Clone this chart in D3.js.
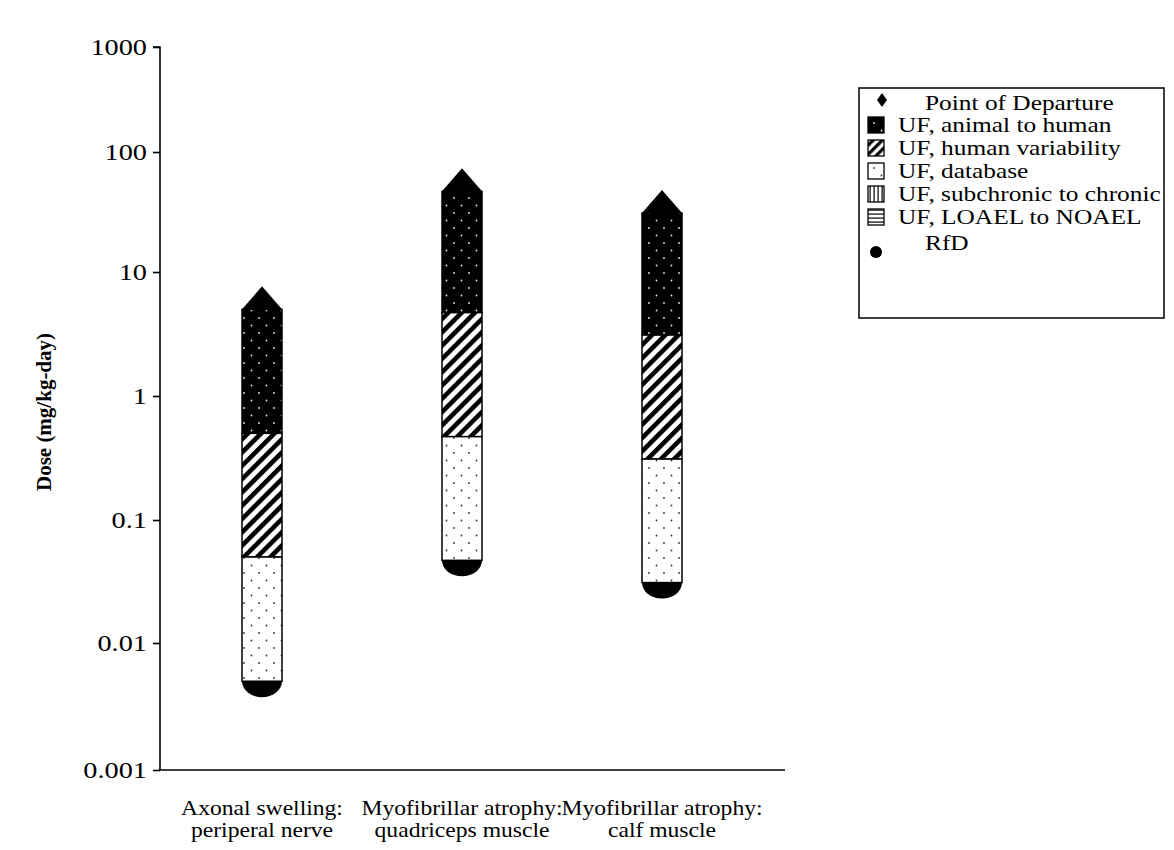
<!DOCTYPE html>
<html>
<head>
<meta charset="utf-8">
<script src="https://cdn.jsdelivr.net/npm/d3@7"></script>
<style>
  html, body { margin: 0; padding: 0; background: #fff; }
  svg { display: block; }
  text { font-family: "Liberation Serif", "Times New Roman", serif; fill: #000; }
</style>
</head>
<body>
<svg id="chart" width="1174" height="850"></svg>
<script>
// Endpoints (two-line category labels)
const categories = [
  ["Axonal swelling:", "periperal nerve"],
  ["Myofibrillar atrophy:", "quadriceps muscle"],
  ["Myofibrillar atrophy:", "calf muscle"]
];
// Point of departure per endpoint (mg/kg-day)
const pointOfDeparture = [5.0, 47, 31];
// Uncertainty factors applied per endpoint
const ufAnimalToHuman = [10, 10, 10];
const ufHumanVariability = [10, 10, 10];
const ufDatabase = [10, 10, 10];
// Resulting reference doses
const rfd = pointOfDeparture.map((p, i) => p / (ufAnimalToHuman[i] * ufHumanVariability[i] * ufDatabase[i]));

const yTickValues = [1000, 100, 10, 1, 0.1, 0.01, 0.001];
const yTickLabels = ["1000", "100", "10", "1", "0.1", "0.01", "0.001"];
const legendLabels = [
  "Point of Departure",
  "UF, animal to human",
  "UF, human variability",
  "UF, database",
  "UF, subchronic to chronic",
  "UF, LOAEL to NOAEL",
  "RfD"
];
const yTitle = "Dose (mg/kg-day)";

const svg = d3.select("#chart");
const SX = 1.18; // horizontal glyph stretch

// ---- patterns ----
const defs = svg.append("defs");
function dotPattern(id, bg, dot) {
  const p = defs.append("pattern").attr("id", id).attr("patternUnits", "userSpaceOnUse")
    .attr("width", 15).attr("height", 15);
  p.append("rect").attr("width", 15).attr("height", 15).attr("fill", bg);
  [[4, 3], [11.5, 10.5]].forEach(([cx, cy]) =>
    p.append("circle").attr("cx", cx).attr("cy", cy).attr("r", 0.9).attr("fill", dot));
}
dotPattern("pAnimal", "#000", "#e6e6e6");
dotPattern("pDatabase", "#fff", "#333");
(function () {
  const p = defs.append("pattern").attr("id", "pHuman").attr("patternUnits", "userSpaceOnUse")
    .attr("width", 9.4).attr("height", 9.4).attr("patternTransform", "rotate(45)");
  p.append("rect").attr("width", 9.4).attr("height", 9.4).attr("fill", "#fff");
  p.append("rect").attr("width", 4.6).attr("height", 9.4).attr("fill", "#000");
})();
(function () {
  const p = defs.append("pattern").attr("id", "pHumanLeg").attr("patternUnits", "userSpaceOnUse")
    .attr("width", 6.5).attr("height", 6.5).attr("patternTransform", "rotate(45)");
  p.append("rect").attr("width", 6.5).attr("height", 6.5).attr("fill", "#fff");
  p.append("rect").attr("width", 3.2).attr("height", 6.5).attr("fill", "#000");
})();
(function () {
  const p = defs.append("pattern").attr("id", "pSubchronic").attr("patternUnits", "userSpaceOnUse")
    .attr("width", 4).attr("height", 4);
  p.append("rect").attr("width", 4).attr("height", 4).attr("fill", "#fff");
  p.append("rect").attr("x", 1.5).attr("width", 1.2).attr("height", 4).attr("fill", "#000");
  const q = defs.append("pattern").attr("id", "pLoael").attr("patternUnits", "userSpaceOnUse")
    .attr("width", 4).attr("height", 4);
  q.append("rect").attr("width", 4).attr("height", 4).attr("fill", "#fff");
  q.append("rect").attr("y", 1.5).attr("width", 4).attr("height", 1.2).attr("fill", "#000");
})();

// ---- scales ----
const y = d3.scaleLog()
  .domain(yTickValues)
  .range([47, 152, 272, 396, 520, 643, 770]);
const x = d3.scaleBand()
  .domain(d3.range(categories.length))
  .range([162, 762]);
const barW = 40;

function stretchedText(g, tx, ty, str, anchor, size, weight) {
  return g.append("text")
    .attr("transform", `translate(${tx},${ty}) scale(${SX},1)`)
    .attr("text-anchor", anchor || "start")
    .attr("font-size", size || 20)
    .attr("font-weight", weight || "normal")
    .text(str);
}

// ---- axes ----
const axisX = 160;
const yAxis = d3.axisLeft(y).tickValues(yTickValues).tickSize(7).tickFormat(() => "");
svg.append("g").attr("transform", `translate(${axisX},0)`).call(yAxis)
  .call(g => g.select(".domain").attr("d", `M-7,${y(1000)}H0V${y(0.001)}`).attr("stroke", "#000").attr("stroke-width", 1.6))
  .call(g => g.selectAll(".tick line").attr("stroke", "#000").attr("stroke-width", 1.6));
const tickG = svg.append("g");
yTickValues.forEach((v, i) => stretchedText(tickG, 147, y(v) + 8, yTickLabels[i], "end", 24));

svg.append("line").attr("x1", axisX - 1).attr("x2", 785)
  .attr("y1", y(0.001)).attr("y2", y(0.001)).attr("stroke", "#000").attr("stroke-width", 1.6);

svg.append("text")
  .attr("transform", `translate(51,${412}) rotate(-90)`)
  .attr("text-anchor", "middle").attr("font-size", 21).attr("font-weight", "bold")
  .text(yTitle);

const catG = svg.append("g");
categories.forEach((lines, i) => {
  const cx = x(i) + x.bandwidth() / 2;
  stretchedText(catG, cx, 815, lines[0], "middle", 20);
  stretchedText(catG, cx, 837, lines[1], "middle", 20);
});

// ---- bars ----
const barsG = svg.append("g");
categories.forEach((_, i) => {
  const cx = x(i) + x.bandwidth() / 2;
  const left = cx - barW / 2;
  const top = pointOfDeparture[i];
  const b1 = top / ufAnimalToHuman[i];
  const b2 = b1 / ufHumanVariability[i];
  const b3 = b2 / ufDatabase[i];
  // RfD marker (half visible below the bar)
  barsG.append("ellipse").attr("cx", cx).attr("cy", y(rfd[i])).attr("rx", 20).attr("ry", 16).attr("fill", "#000");
  // point of departure marker (diamond, upper half visible)
  const py = y(top);
  barsG.append("path").attr("d", `M${cx},${py - 23}L${cx + 20},${py}L${cx},${py + 23}L${cx - 20},${py}Z`).attr("fill", "#000");
  const segs = [[top, b1, "url(#pAnimal)"], [b1, b2, "url(#pHuman)"], [b2, b3, "url(#pDatabase)"]];
  segs.forEach(([hi, lo, fill]) => {
    barsG.append("rect").attr("x", left).attr("y", y(hi)).attr("width", barW)
      .attr("height", y(lo) - y(hi)).attr("fill", fill).attr("stroke", "#000").attr("stroke-width", 1.5);
  });
});

// ---- legend ----
const lg = svg.append("g");
const legBox = { x: 859, y: 88, w: 305, h: 230 };
lg.append("rect").attr("x", legBox.x).attr("y", legBox.y).attr("width", legBox.w).attr("height", legBox.h)
  .attr("fill", "#fff").attr("stroke", "#000").attr("stroke-width", 1.5);
const clip = defs.append("clipPath").attr("id", "legClip");
clip.append("rect").attr("x", legBox.x).attr("y", legBox.y).attr("width", legBox.w - 1).attr("height", legBox.h);
const legItems = lg.append("g").attr("clip-path", "url(#legClip)");
const rowY = [100, 125, 148, 171, 194, 217, 252];
const fills = [null, "url(#pAnimal)", "url(#pHumanLeg)", "url(#pDatabase)", "url(#pSubchronic)", "url(#pLoael)", null];
legendLabels.forEach((lab, i) => {
  const ry = rowY[i];
  if (i === 0) {
    legItems.append("path").attr("d", `M882,${ry - 7}L887,${ry}L882,${ry + 7}L877,${ry}Z`).attr("fill", "#000");
    stretchedText(legItems, 925, ry + 10, lab, "start", 21.5);
  } else if (i === 6) {
    legItems.append("circle").attr("cx", 876).attr("cy", ry).attr("r", 6).attr("fill", "#000");
    stretchedText(legItems, 925, ry - 2, lab, "start", 21.5);
  } else {
    legItems.append("rect").attr("x", 868).attr("y", ry - 8).attr("width", 16).attr("height", 16)
      .attr("fill", fills[i]).attr("stroke", "#000").attr("stroke-width", 1.3);
    stretchedText(legItems, 898, ry + 7, lab, "start", 21.5);
  }
});
</script>
</body>
</html>
